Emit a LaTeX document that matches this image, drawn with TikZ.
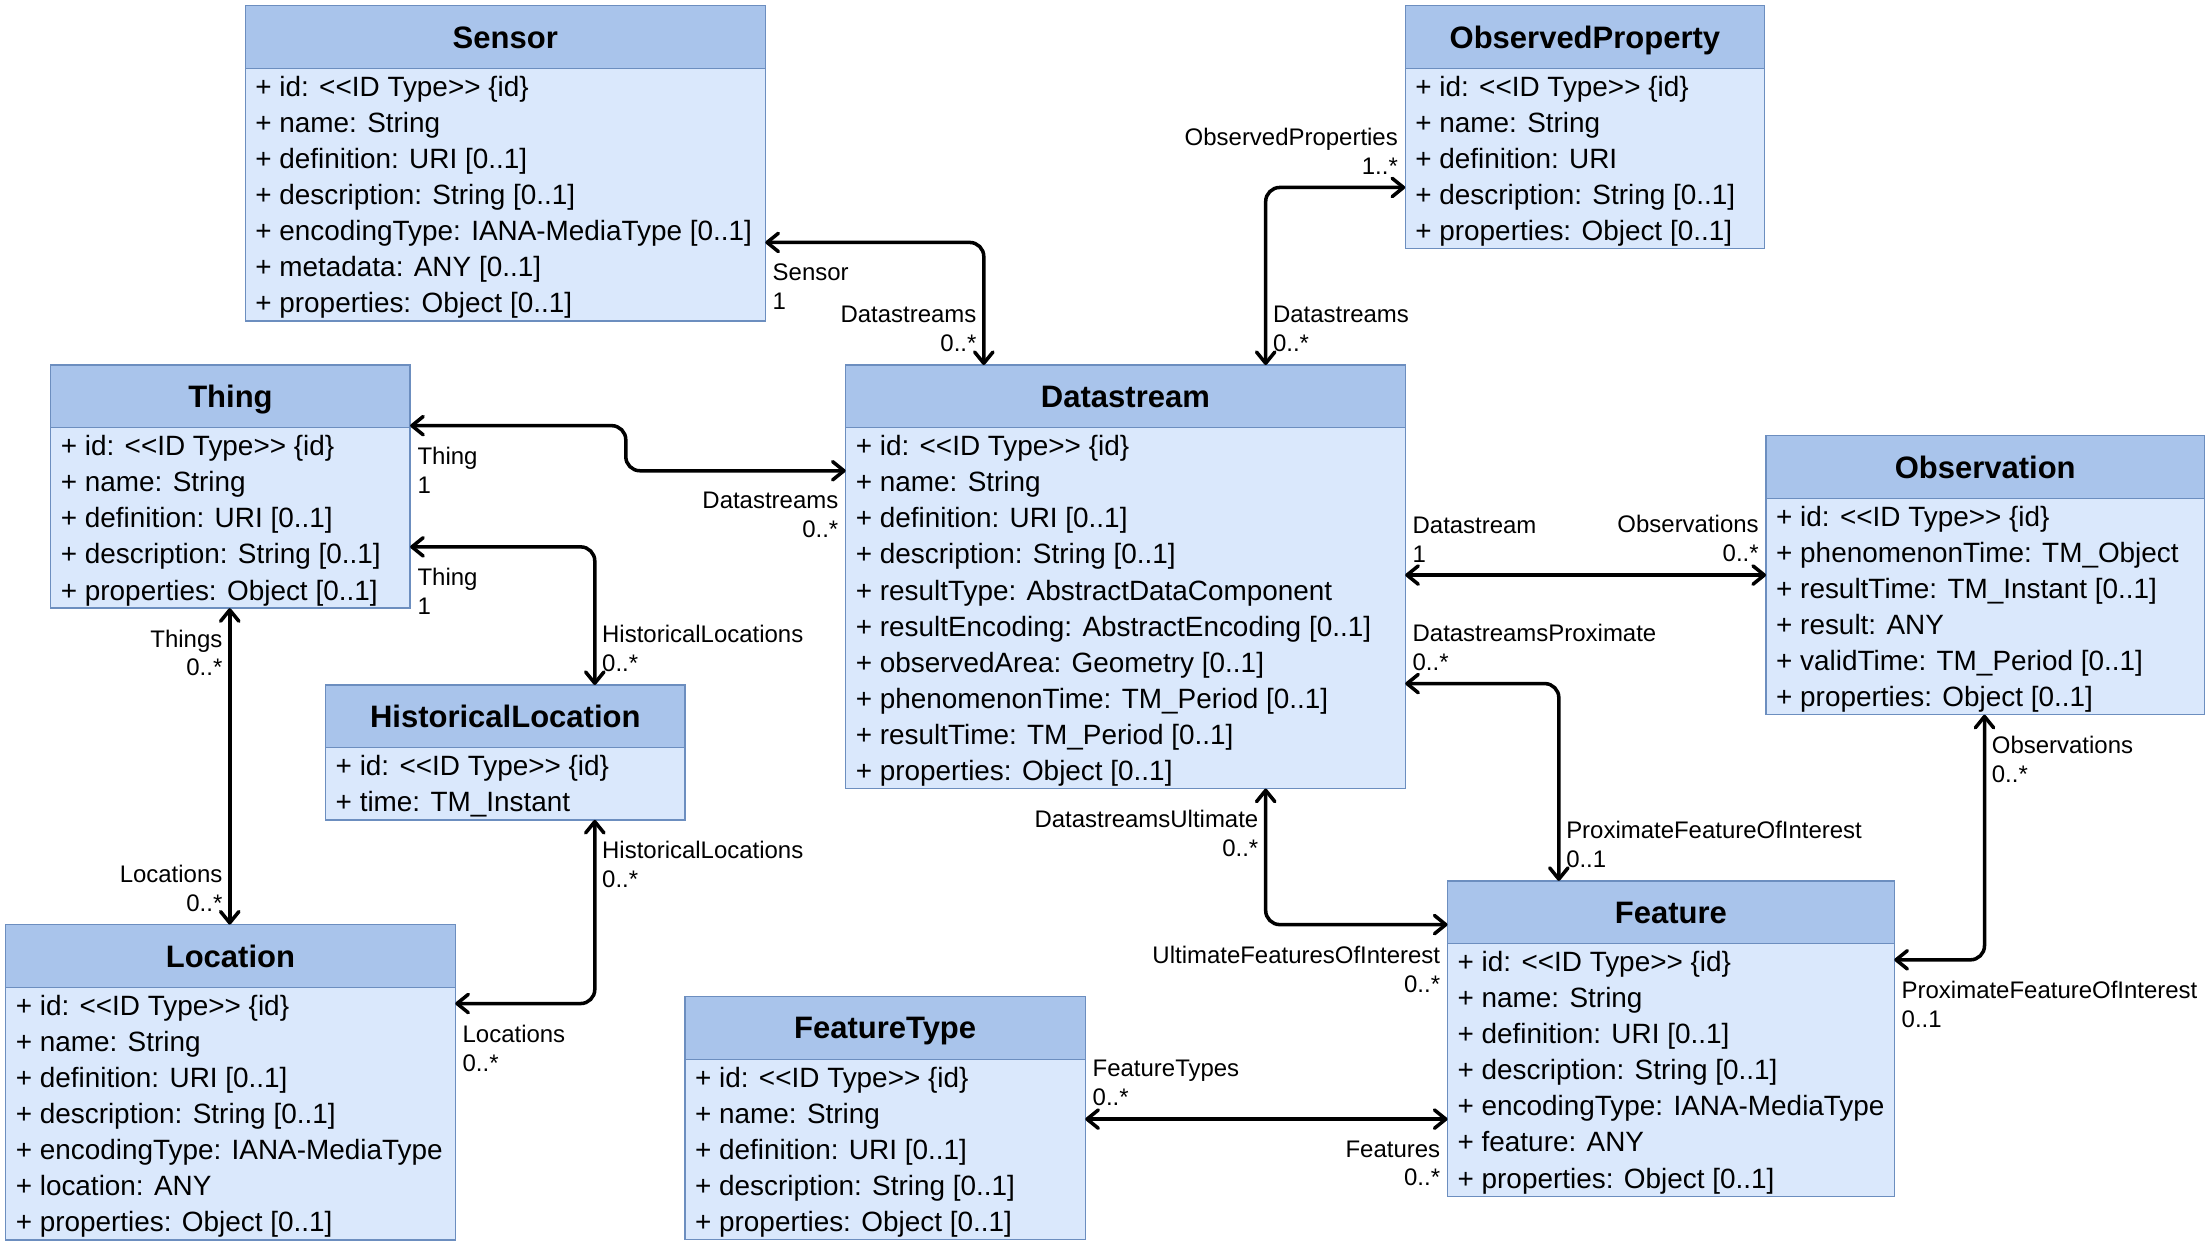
\documentclass[tikz,border=0pt]{standalone}
\usepackage{fontspec}
\setmainfont{Liberation Sans}
\usepackage{tikz}
\usetikzlibrary{arrows.meta}
\definecolor{headfill}{HTML}{A9C4EB}
\definecolor{bodyfill}{HTML}{DAE8FC}
\definecolor{boxline}{HTML}{6C8EBF}
\newcommand{\IDT}{<\kern0pt<ID Type>\kern0pt> \{id\}}
% name, x, y, width, rows, title, attributes
\newcommand{\ClassBox}[7]{%
  \node[classhead,minimum width=#4pt,anchor=north west] (#1-h) at (#2,#3) {#6};
  \node[classbody,minimum width=#4pt,minimum height=#5*25.6pt,anchor=north west] (#1) at (#1-h.south west) {};
  \foreach \a [count=\i] in {#7}
    \node[attr] (#1-\i) at ([xshift=7pt,yshift=-\i*25.6pt+5.8pt]#1.north west) {\a};
}
\tikzset{
  classhead/.style={draw=boxline,fill=headfill,line width=1pt,minimum height=44.5pt,inner sep=0pt,outer sep=0pt,
    font=\fontsize{22}{26}\selectfont\bfseries,text height=15.8pt,text depth=0pt},
  classbody/.style={draw=boxline,fill=bodyfill,line width=1pt,inner sep=0pt,outer sep=0pt},
  attr/.style={anchor=base west,inner sep=0pt,font=\fontsize{19.8}{23}\selectfont},
  assoc/.style={line width=2.5pt,rounded corners=10pt,>={Straight Barb[length=8pt,width=13pt,round]},<->},
  tag/.style={inner sep=0pt,font=\fontsize{17}{20.5}\selectfont},
  tagBR/.style={tag,anchor=north west,align=left,xshift=4pt,yshift=-14pt},
  tagBL/.style={tag,anchor=north east,align=right,xshift=-4pt,yshift=-14pt},
  tagAR/.style={tag,anchor=south west,align=left,xshift=4pt,yshift=8pt},
  tagAL/.style={tag,anchor=south east,align=right,xshift=-4pt,yshift=8pt}
}
\begin{document}
\begin{tikzpicture}[x=1pt,y=-1pt] % pixel grid of the drawing
  \useasboundingbox (0,0) rectangle (1568,884);
  \ClassBox{sensor}{174}{4}{369}{7}{Sensor}{+ id: \IDT, + name: String, + definition: URI [0..1], + description: String [0..1],
    + encodingType: IANA-MediaType [0..1], + metadata: ANY [0..1], + properties: Object [0..1]}
  \ClassBox{obsprop}{997}{4}{255}{5}{ObservedProperty}{+ id: \IDT, + name: String, + definition: URI,
    + description: String [0..1], + properties: Object [0..1]}
  \ClassBox{thing}{36}{259}{255}{5}{Thing}{+ id: \IDT, + name: String, + definition: URI [0..1],
    + description: String [0..1], + properties: Object [0..1]}
  \ClassBox{ds}{600}{259}{397}{10}{Datastream}{+ id: \IDT, + name: String, + definition: URI [0..1],
    + description: String [0..1], + resultType: AbstractDataComponent, + resultEncoding: AbstractEncoding [0..1],
    + observedArea: Geometry [0..1], + phenomenonTime: TM\_Period [0..1], + resultTime: TM\_Period [0..1],
    + properties: Object [0..1]}
  \ClassBox{obs}{1253}{309}{311}{6}{Observation}{+ id: \IDT, + phenomenonTime: TM\_Object, + resultTime: TM\_Instant [0..1],
    + result: ANY, + validTime: TM\_Period [0..1], + properties: Object [0..1]}
  \ClassBox{hist}{231}{486}{255}{2}{HistoricalLocation}{+ id: \IDT, + time: TM\_Instant}
  \ClassBox{loc}{4}{656}{319}{7}{Location}{+ id: \IDT, + name: String, + definition: URI [0..1], + description: String [0..1],
    + encodingType: IANA-MediaType, + location: ANY, + properties: Object [0..1]}
  \ClassBox{ftype}{486}{707}{284}{5}{FeatureType}{+ id: \IDT, + name: String, + definition: URI [0..1],
    + description: String [0..1], + properties: Object [0..1]}
  \ClassBox{feat}{1027}{625}{317}{7}{Feature}{+ id: \IDT, + name: String, + definition: URI [0..1], + description: String [0..1],
    + encodingType: IANA-MediaType, + feature: ANY, + properties: Object [0..1]}

  % associations
  \draw[assoc] ([yshift=-123.5pt]sensor.north east) node[tagBR] (t1) {Sensor\\1}
    -| ([xshift=98pt]ds-h.north west) node[tagAL] (t2) {Datastreams\\0..*};
  \draw[assoc] ([yshift=-84.5pt]obsprop.north west) node[tagAL] (t3) {ObservedProperties\\1..*}
    -| ([xshift=298pt]ds-h.north west) node[tagAR] (t4) {Datastreams\\0..*};
  \draw[assoc] ([yshift=1.5pt]thing-h.south east) node[tagBR] (t5) {Thing\\1}
    -- ++(153,0) |- ([yshift=-30.5pt]ds.north west) node[tagBL] (t6) {Datastreams\\0..*};
  \draw[assoc] ([yshift=-84.5pt]thing.north east) node[tagBR] (t7) {Thing\\1}
    -| ([xshift=191pt]hist-h.north west) node[tagAR] (t8) {HistoricalLocations\\0..*};
  \draw[assoc] ([xshift=127pt]thing.south west) node[tagBL] (t9) {Things\\0..*}
    -- ([xshift=159pt]loc-h.north west) node[tagAL] (t10) {Locations\\0..*};
  \draw[assoc] ([xshift=191pt]hist.south west) node[tagBR] (t11) {HistoricalLocations\\0..*}
    |- ([yshift=-11.5pt]loc.north east) node[tagBR] (t12) {Locations\\0..*};
  \draw[assoc] ([yshift=-104.5pt]ds.north east) coordinate (d1) node[tagAR] (t13) {Datastream\\1}
    -- (d1 -| obs.west) node[tagAL] (t14) {Observations\\0..*};
  \draw[assoc] ([yshift=-181.5pt]ds.north east) node[tagAR] (t15) {DatastreamsProximate\\0..*}
    -| ([xshift=79pt]feat-h.north west) node[tagAR] (t16) {ProximateFeatureOfInterest\\0..1};
  \draw[assoc] ([xshift=298pt]ds.south west) node[tagBL] (t17) {DatastreamsUltimate\\0..*}
    |- ([yshift=-31pt]feat-h.north west) node[tagBL] (t18) {UltimateFeaturesOfInterest\\0..*};
  \draw[assoc] ([xshift=155pt]obs.south west) node[tagBR] (t19) {Observations\\0..*}
    |- ([yshift=-11.5pt]feat.north east) node[tagBR] (t20) {ProximateFeatureOfInterest\\0..1};
  \draw[assoc] ([yshift=-42.5pt]ftype.north east) coordinate (f1) node[tagAR] (t21) {FeatureTypes\\0..*}
    -- (f1 -| feat.west) node[tagBL] (t22) {Features\\0..*};
\end{tikzpicture}
\end{document}
